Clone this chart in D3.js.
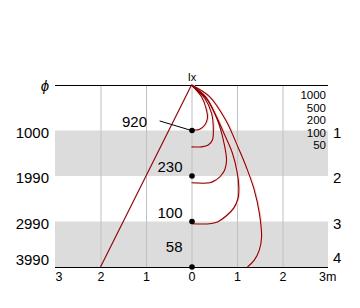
<!DOCTYPE html>
<html>
<head>
<meta charset="utf-8">
<script src="https://cdn.jsdelivr.net/npm/d3@7"></script>
<style>
  body { margin: 0; background: #fff; }
  svg { display: block; }
  text { font-family: "Liberation Sans", Arial, sans-serif; fill: #000; }
</style>
</head>
<body>
<div id="chart"></div>
<script>
// layers (depth index 0..4) and their labels
var depthLabels = ["\u03d5", "1000", "1990", "2990", "3990"];
var layerLabels = ["1", "2", "3", "4"];
var xTicks = [-3, -2, -1, 0, 1, 2, 3];
var xTickLabels = ["3", "2", "1", "0", "1", "2", "3m"];
var grayBands = [[1, 2], [3, 4]];
var legendValues = ["1000", "500", "200", "100", "50"];

// point values along x = 0 at each layer boundary
var pointValues = [920, 230, 100, 58];
var pointDepths = [1, 2, 3, 4];

// curves (x in m, depth in layer units)
var curve1000 = [[0,0],[0.22,0.26],[0.33,0.55],[0.35,0.73],[0.29,0.88],[0.18,0.97],[0,0.99]];
var curve500 = [[0,0],[0.29,0.29],[0.44,0.62],[0.48,0.99],[0.46,1.21],[0.37,1.32],[0.22,1.36],[0,1.36]];
var curve200 = [[0,0],[0.35,0.33],[0.57,0.77],[0.70,1.21],[0.77,1.65],[0.73,1.87],[0.64,2.0],[0.53,2.09],[0.40,2.15],[0,2.15]];
var curve100 = [[0,0],[0.31,0.26],[0.53,0.66],[0.73,1.10],[0.90,1.50],[1.00,1.90],[1.04,2.25],[1.02,2.50],[0.93,2.70],[0.76,2.88],[0.57,3.01],[0.40,3.05],[0,3.05]];
var curve50 = [[0,0],[0.40,0.26],[0.75,0.77],[1.05,1.43],[1.23,1.87],[1.38,2.31],[1.49,2.81],[1.54,3.34],[1.49,3.63],[1.38,3.85],[1.23,4.0]];
var curves = [curve1000, curve500, curve200, curve100, curve50];
var slopeLine = [[0, 0], [-2, 4]];
var pointerLine = [[-0.70, 0.79], [0, 1]];

var width = 360, height = 308;
var x = d3.scaleLinear().domain([-3, 3]).range([55, 328]);
var y = d3.scaleLinear().domain([0, 4]).range([85, 267]);

var svg = d3.select("#chart").append("svg")
    .attr("width", width)
    .attr("height", height);

// gray bands
svg.selectAll("rect.band").data(grayBands).enter()
  .append("rect")
    .attr("class", "band")
    .attr("x", x(-3))
    .attr("width", x(3) - x(-3))
    .attr("y", function (d) { return y(d[0]); })
    .attr("height", function (d) { return y(d[1]) - y(d[0]); })
    .attr("fill", "#dcdcdc");

// vertical grid
svg.selectAll("line.grid").data(xTicks.slice(1, -1)).enter()
  .append("line")
    .attr("x1", function (d) { return x(d) + 0.5; })
    .attr("x2", function (d) { return x(d) + 0.5; })
    .attr("y1", y(0))
    .attr("y2", y(4))
    .attr("stroke", "#c0c0c0")
    .attr("stroke-width", 1);

// top and bottom lines
[0, 4].forEach(function (d) {
  svg.append("line")
      .attr("x1", x(-3))
      .attr("x2", x(3))
      .attr("y1", y(d) + 0.5)
      .attr("y2", y(d) + 0.5)
      .attr("stroke", "#000")
      .attr("stroke-width", 1.2);
});

var line = d3.line()
    .curve(d3.curveCatmullRom.alpha(0.5))
    .x(function (d) { return x(d[0]); })
    .y(function (d) { return y(d[1]); });

// pinkish halo then dark red curves
svg.selectAll("path.halo").data(curves).enter()
  .append("path")
    .attr("d", line)
    .attr("transform", "translate(1,0)")
    .attr("fill", "none")
    .attr("stroke", "#ffd0d0")
    .attr("stroke-width", 1.2);
svg.selectAll("path.curve").data(curves.concat([slopeLine])).enter()
  .append("path")
    .attr("d", line)
    .attr("fill", "none")
    .attr("stroke", "#8b0000")
    .attr("stroke-width", 1.1);

// pointer
svg.append("path")
    .attr("d", d3.line().x(function (d) { return x(d[0]); }).y(function (d) { return y(d[1]); })(pointerLine))
    .attr("stroke", "#000")
    .attr("stroke-width", 1);

// dots and value labels
svg.selectAll("circle.pt").data(pointDepths).enter()
  .append("circle")
    .attr("cx", x(0) + 0.5)
    .attr("cy", function (d) { return y(d); })
    .attr("r", 2.8)
    .attr("fill", "#000");

svg.selectAll("text.val").data(pointValues).enter()
  .append("text")
    .attr("text-anchor", "end")
    .attr("font-size", 15)
    .attr("x", function (d, i) { return i === 0 ? x(-1) + 1 : x(0) - 9; })
    .attr("y", function (d, i) { return y(pointDepths[i]) - (i === 3 ? 15 : 4); })
    .text(function (d) { return d; });

// left depth labels
svg.selectAll("text.depth").data(depthLabels).enter()
  .append("text")
    .attr("text-anchor", "end")
    .attr("font-size", 15)
    .attr("x", 49)
    .attr("y", function (d, i) { return y(i) + (i === 4 ? -2 : 7) - (i === 0 ? 1 : 0); })
    .attr("font-style", function (d, i) { return i === 0 ? "italic" : null; })
    .text(function (d) { return d; });

// right layer numbers
svg.selectAll("text.layer").data(layerLabels).enter()
  .append("text")
    .attr("font-size", 15)
    .attr("x", 333)
    .attr("y", function (d, i) { return y(i + 1) + (i === 3 ? -4 : 7); })
    .text(function (d) { return d; });

// bottom x labels
svg.selectAll("text.xt").data(xTicks).enter()
  .append("text")
    .attr("font-size", 12.5)
    .attr("text-anchor", function (d, i) { return i === xTicks.length - 1 ? "start" : "middle"; })
    .attr("x", function (d, i) {
      if (i === 0) return x(d) + 4;
      if (i === xTicks.length - 1) return x(d) - 9;
      return x(d) + 0.5;
    })
    .attr("y", 281)
    .text(function (d, i) { return xTickLabels[i]; });

// legend of curve values
svg.selectAll("text.leg").data(legendValues).enter()
  .append("text")
    .attr("text-anchor", "end")
    .attr("font-size", 11.5)
    .attr("x", 326)
    .attr("y", function (d, i) { return 99 + i * 12.5; })
    .text(function (d) { return d; });

// source label
svg.append("text")
    .attr("text-anchor", "middle")
    .attr("font-size", 11)
    .attr("x", x(0) + 0.5)
    .attr("y", 81)
    .text("Ix");
</script>
</body>
</html>
